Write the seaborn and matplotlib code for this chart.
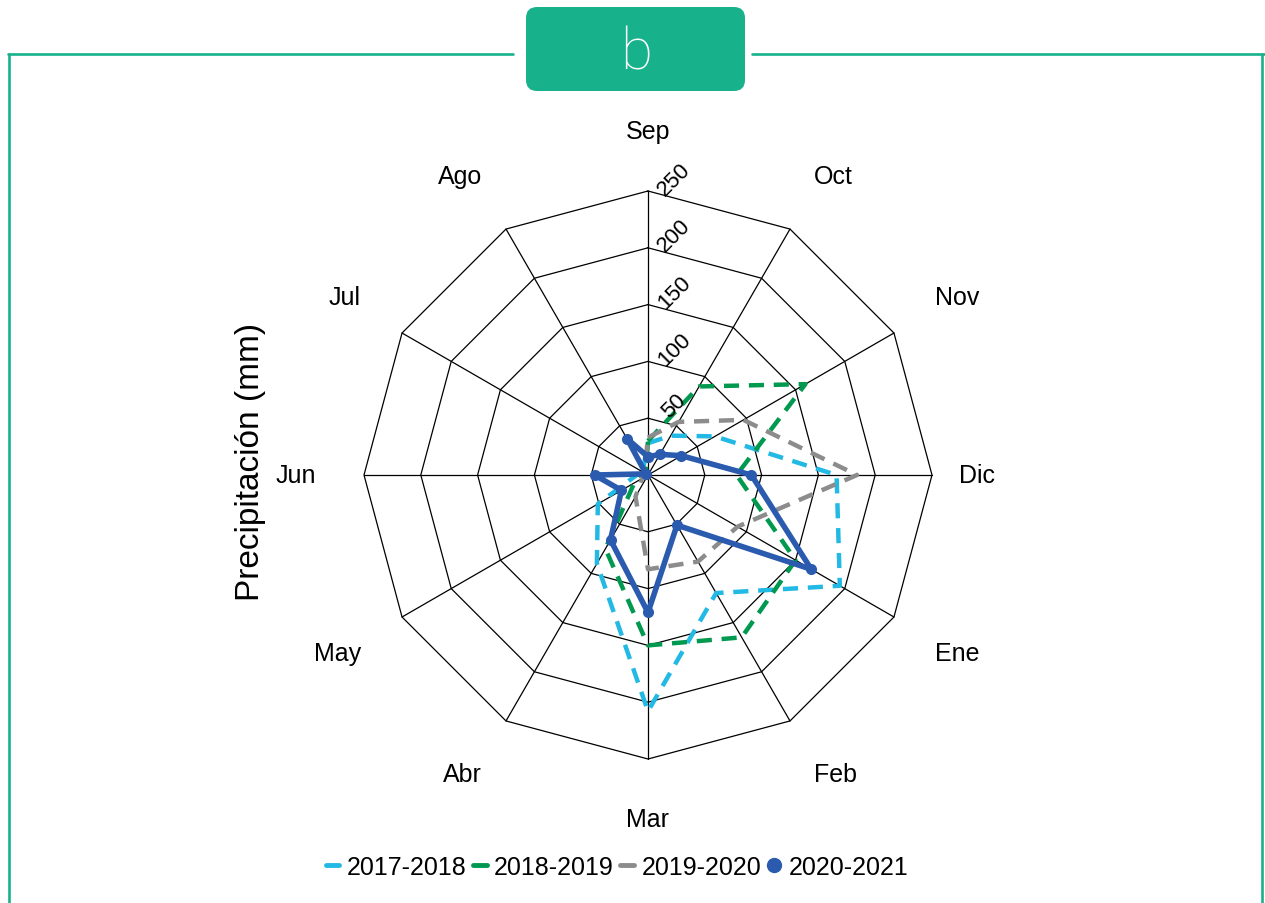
import numpy as np
import pandas as pd
import seaborn as sns
import matplotlib.pyplot as plt
from matplotlib.lines import Line2D
from matplotlib.patches import FancyBboxPatch

# Monthly precipitation (mm), hydrological year Sep-Ago
months = ['Sep', 'Oct', 'Nov', 'Dic', 'Ene', 'Feb', 'Mar', 'Abr', 'May', 'Jun', 'Jul', 'Ago']
p_2017_18 = [28, 40, 68, 166, 195, 120, 208, 90, 51, 10, 2, 8]
p_2018_19 = [30, 90, 160, 78, 150, 165, 150, 75, 14, 5, 2, 4]
p_2019_20 = [33, 54, 97, 184, 91, 88, 83, 22, 6, 3, 2, 6]
p_2020_21 = [16, 21, 34, 91, 166, 51, 121, 66, 27, 47, 2, 37]
seasons = ['2017-2018', '2018-2019', '2019-2020', '2020-2021']
rings = [50, 100, 150, 200, 250]

colors = {'2017-2018': '#22B9E4', '2018-2019': '#00994F',
          '2019-2020': '#8C8C8C', '2020-2021': '#2A5BAE'}
teal = '#17B18C'

sns.set_theme(style='white')
plt.rcParams['font.family'] = ['Liberation Sans', 'DejaVu Sans']
plt.rcParams['text.color'] = 'black'

theta = np.deg2rad(np.arange(len(months)) * 30)
theta_c = np.append(theta, 2 * np.pi)

fig = plt.figure(figsize=(12.65, 9.04), dpi=100)
W, H = 1265, 904
cx, cy, R = 648, 476, 284
ax = fig.add_axes([(cx - R) / W, (H - cy - R) / H, 2 * R / W, 2 * R / H], projection='polar')
ax.set_theta_zero_location('N')
ax.set_theta_direction(-1)
ax.set_ylim(0, 250)
ax.grid(False)
ax.spines['polar'].set_visible(False)
ax.set_xticks([])
ax.set_yticks([])

# polygon web
for r in rings:
    ax.plot(theta_c, [r] * len(theta_c), color='black', lw=0.9, clip_on=False, zorder=1)
for t in theta:
    ax.plot([t, t], [0, rings[-1]], color='black', lw=0.9, clip_on=False, zorder=1)

# series
data = {'2017-2018': p_2017_18, '2018-2019': p_2018_19,
        '2019-2020': p_2019_20, '2020-2021': p_2020_21}
for s in seasons:
    vals = data[s] + [data[s][0]]
    df = pd.DataFrame({'theta': theta_c, 'mm': vals})
    if s == '2020-2021':
        sns.lineplot(data=df, x='theta', y='mm', ax=ax, sort=False, estimator=None,
                     color=colors[s], lw=4, marker='o', markersize=8,
                     markeredgewidth=0, clip_on=False, zorder=5)
    else:
        sns.lineplot(data=df, x='theta', y='mm', ax=ax, sort=False, estimator=None,
                     color=colors[s], lw=3.2, linestyle=(0, (3.4, 2.2)),
                     clip_on=False, zorder=3)
ax.set_xlabel('')
ax.set_ylabel('')

# month labels, anchored by their nearest edge
for t, m in zip(theta, months):
    s, c = np.sin(t), np.cos(t)
    ha = 'left' if s > 0.1 else ('right' if s < -0.1 else 'center')
    va = 'bottom' if c > 0.1 else ('top' if c < -0.1 else 'center')
    r_lab = 274 if m == 'Dic' else 292
    ax.text(t, r_lab, m, ha=ha, va=va, fontsize=18)

# radial tick labels
for r in rings:
    ax.annotate(str(r), xy=(0, r), xytext=(19, 9), textcoords='offset points',
                rotation=45, ha='center', va='center', fontsize=16)

fig.text(251 / W, 1 - 462 / H, 'Precipitación (mm)', rotation=90,
         ha='center', va='center', fontsize=24)

# legend
handles = [Line2D([0], [0], color=colors[s], lw=3.5) for s in seasons[:3]]
handles.append(Line2D([0], [0], color=colors['2020-2021'], marker='o',
                      linestyle='none', markersize=10))
fig.legend(handles, seasons, loc='center', bbox_to_anchor=(617 / W, 1 - 868 / H),
           ncol=4, frameon=False, fontsize=18, handlelength=0.55,
           handletextpad=0.3, columnspacing=0.25)

# frame and badge (inches from the bottom-left corner)
px = fig.dpi_scale_trans
lw_f = 1.9
y_top = (H - 55) / 100
fig.add_artist(Line2D([0.08, 5.13], [y_top] * 2, color=teal, lw=lw_f, transform=px))
fig.add_artist(Line2D([7.52, 12.65], [y_top] * 2, color=teal, lw=lw_f, transform=px))
fig.add_artist(Line2D([0.09] * 2, [0, y_top], color=teal, lw=lw_f, transform=px))
fig.add_artist(Line2D([12.62] * 2, [0, y_top], color=teal, lw=lw_f, transform=px))
badge = FancyBboxPatch((5.26, (H - 92) / 100), 2.19, 0.84,
                       boxstyle='round,pad=0,rounding_size=0.11',
                       transform=px, facecolor=teal, edgecolor='none')
fig.add_artist(badge)
fig.text(636 / W, 1 - 54 / H, 'b', ha='center', va='center', color='white',
         fontsize=42, family=['Roboto', 'DejaVu Sans'], fontweight='light')

fig.savefig('out.png', dpi=100)
